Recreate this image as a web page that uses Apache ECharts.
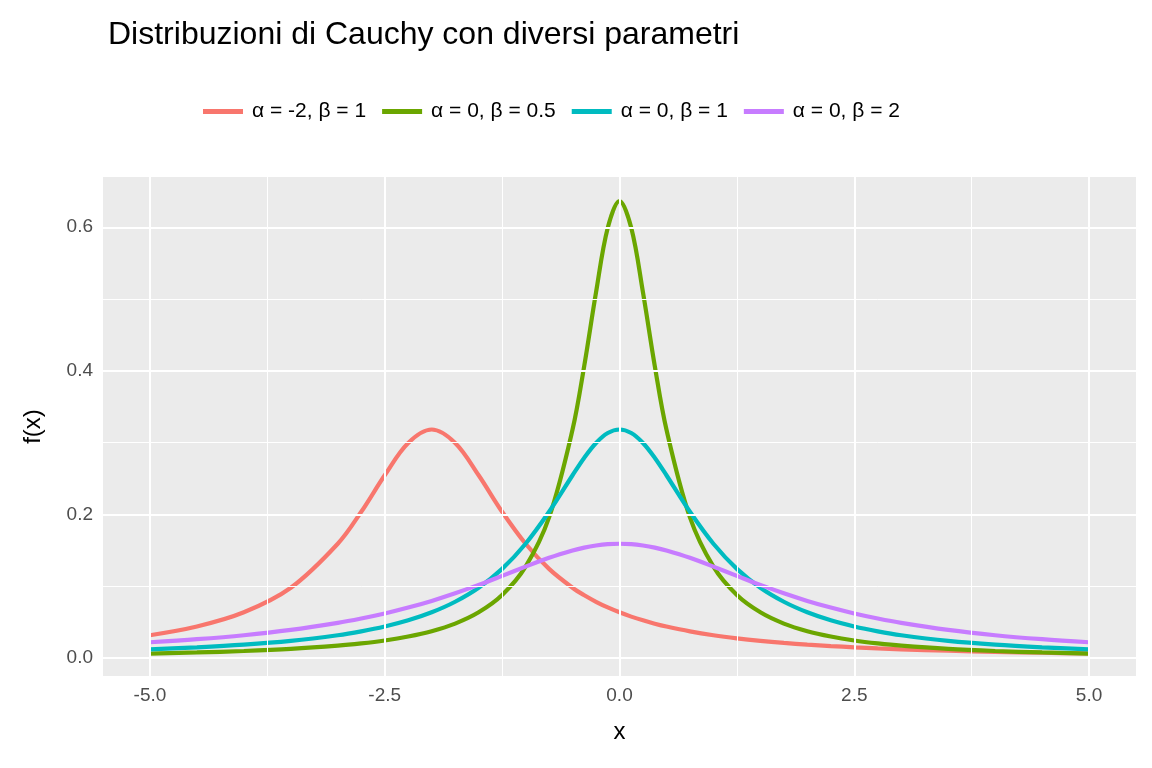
<!DOCTYPE html>
<html>
<head>
<meta charset="utf-8">
<script src="https://cdn.jsdelivr.net/npm/echarts@6/dist/echarts.min.js"></script>
<style>html,body{margin:0;padding:0;background:#fff}#chart{width:1152px;height:768px}</style>
</head>
<body>
<div id="chart"></div>
<script>
// x positions and curve values
const xs = [-5, -4.5, -4, -3.5, -3, -2.75, -2.5, -2.25, -2, -1.75, -1.5, -1.25, -1, -0.75, -0.5, -0.375, -0.25, -0.125, 0,
  0.125, 0.25, 0.375, 0.5, 0.75, 1, 1.25, 1.5, 1.75, 2, 2.25, 2.5, 2.75, 3, 3.5, 4, 4.5, 5]
const redVals = [0.0318, 0.0439, 0.0637, 0.0979, 0.1592, 0.2037, 0.2546, 0.2996, 0.3183, 0.2996, 0.2546, 0.2037, 0.1592, 0.1242, 0.0979, 0.0874, 0.0784, 0.0705, 0.0637,
  0.0577, 0.0525, 0.0479, 0.0439, 0.0372, 0.0318, 0.0275, 0.0240, 0.0211, 0.0187, 0.0167, 0.0150, 0.0135, 0.0122, 0.0102, 0.0086, 0.0074, 0.0064]
const greenVals = [0.0063, 0.0078, 0.0098, 0.0127, 0.0172, 0.0204, 0.0245, 0.0300, 0.0374, 0.0480, 0.0637, 0.0878, 0.1273, 0.1959, 0.3183, 0.4074, 0.5093, 0.5992, 0.6366,
  0.5992, 0.5093, 0.4074, 0.3183, 0.1959, 0.1273, 0.0878, 0.0637, 0.0480, 0.0374, 0.0300, 0.0245, 0.0204, 0.0172, 0.0127, 0.0098, 0.0078, 0.0063]
const cyanVals = [0.0122, 0.0150, 0.0187, 0.0240, 0.0318, 0.0372, 0.0439, 0.0525, 0.0637, 0.0784, 0.0979, 0.1242, 0.1592, 0.2037, 0.2546, 0.2791, 0.2996, 0.3134, 0.3183,
  0.3134, 0.2996, 0.2791, 0.2546, 0.2037, 0.1592, 0.1242, 0.0979, 0.0784, 0.0637, 0.0525, 0.0439, 0.0372, 0.0318, 0.0240, 0.0187, 0.0150, 0.0122]
const purpleVals = [0.0220, 0.0263, 0.0318, 0.0392, 0.0490, 0.0551, 0.0621, 0.0703, 0.0796, 0.0902, 0.1019, 0.1145, 0.1273, 0.1396, 0.1498, 0.1538, 0.1567, 0.1586, 0.1592,
  0.1586, 0.1567, 0.1538, 0.1498, 0.1396, 0.1273, 0.1145, 0.1019, 0.0902, 0.0796, 0.0703, 0.0621, 0.0551, 0.0490, 0.0392, 0.0318, 0.0263, 0.0220]
const seriesNames = ['α = -2, β = 1', 'α = 0, β = 0.5', 'α = 0, β = 1', 'α = 0, β = 2']
const seriesColors = ['#F8766D', '#6BA600', '#00BBC0', '#C77CFF']
const xTicks = [-5, -2.5, 0, 2.5, 5]
const xMinor = [-3.75, -1.25, 1.25, 3.75]
const yTicks = [0, 0.2, 0.4, 0.6]
const yMinor = [0.1, 0.3, 0.5]

const chart = echarts.init(document.getElementById('chart'))
const pairs = vals => xs.map((x, i) => [x, vals[i]])
const gridLine = (key, v, w) => ({ [key]: v, lineStyle: { color: '#fff', width: w, type: 'solid' } })
const labelStyle = { color: '#4D4D4D', fontSize: 19, fontFamily: 'Liberation Sans' }

chart.setOption({
  animation: false,
  title: { text: 'Distribuzioni di Cauchy con diversi parametri', left: 103, top: 14,
    textStyle: { fontSize: 32, fontWeight: 'normal', color: '#000', fontFamily: 'Liberation Sans' } },
  legend: { top: 96, left: 198, itemWidth: 40, itemHeight: 5, itemGap: 16, icon: 'rect',
    data: seriesNames, textStyle: { fontSize: 21, color: '#000', fontFamily: 'Liberation Sans', padding: [0, 0, 0, 4] } },
  grid: { left: 103, right: 16, top: 177, bottom: 92, show: true, backgroundColor: '#EBEBEB', borderWidth: 0 },
  xAxis: { type: 'value', min: -5.5, max: 5.5, splitLine: { show: false }, axisLine: { show: false },
    axisTick: { show: true, customValues: xTicks, length: 6, lineStyle: { color: '#333' } },
    axisLabel: { customValues: xTicks, ...labelStyle, formatter: v => v.toFixed(1), margin: 10 },
    name: 'x', nameLocation: 'middle', nameGap: 44, nameTextStyle: { fontSize: 24, color: '#000', fontFamily: 'Liberation Sans' } },
  yAxis: { type: 'value', min: -0.025, max: 0.67, splitLine: { show: false }, axisLine: { show: false },
    axisTick: { show: true, customValues: yTicks, length: 6, lineStyle: { color: '#333' } },
    axisLabel: { customValues: yTicks, ...labelStyle, formatter: v => v.toFixed(1), margin: 10 },
    name: 'f(x)', nameLocation: 'middle', nameGap: 58, nameTextStyle: { fontSize: 24, color: '#000', fontFamily: 'Liberation Sans' } },
  series: [
    { type: 'line', data: [], silent: true,
      markLine: { silent: true, symbol: 'none', label: { show: false }, animation: false,
        data: [
          ...xMinor.map(v => gridLine('xAxis', v, 1)),
          ...yMinor.map(v => gridLine('yAxis', v, 1)),
          ...xTicks.map(v => gridLine('xAxis', v, 2)),
          ...yTicks.map(v => gridLine('yAxis', v, 2))
        ] } },
    ...[redVals, greenVals, cyanVals, purpleVals].map((vals, i) => ({
      name: seriesNames[i], type: 'line', data: pairs(vals), smooth: 0.35, showSymbol: false,
      color: seriesColors[i], lineStyle: { width: 4.2, color: seriesColors[i] }
    }))
  ]
})
</script>
</body>
</html>
